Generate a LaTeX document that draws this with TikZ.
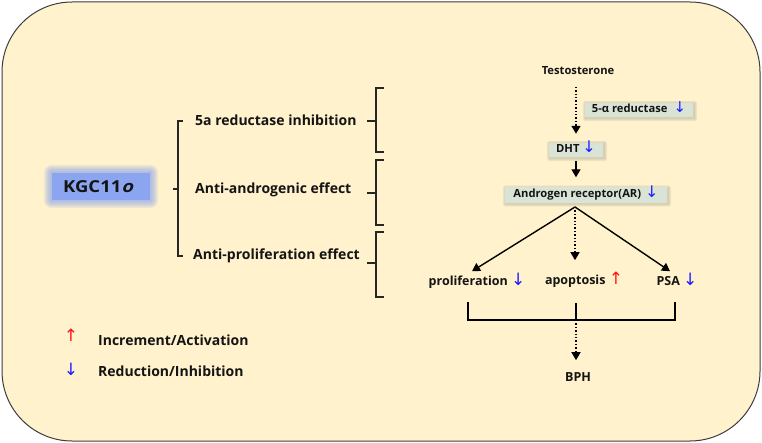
\documentclass[tikz,border=0pt]{standalone}
\usepackage{fontspec}
\setmainfont{Open Sans}
\newfontfamily\arrowfont{DejaVu Sans}
\newfontfamily\kgcfont{Open Sans}[FakeStretch=1.12]
\newfontfamily\kgcslant{Open Sans}[FakeStretch=1.12, FakeSlant=0.28]
\usetikzlibrary{arrows.meta,backgrounds,calc}
\definecolor{bgyellow}{RGB}{255,242,204}
\definecolor{framecol}{RGB}{60,60,60}
\definecolor{kgcblue}{RGB}{140,165,240}
\definecolor{boxgray}{RGB}{218,228,214}
\definecolor{upred}{RGB}{255,20,20}
\definecolor{downblue}{RGB}{30,30,255}
\definecolor{txt}{RGB}{20,20,20}
\newcommand{\dnarr}[1][17]{{\arrowfont\mdseries\fontsize{#1}{#1}\selectfont\color{downblue}↓}}
\newcommand{\uparr}[1][17]{{\arrowfont\mdseries\fontsize{#1}{#1}\selectfont\color{upred}↑}}
\begin{document}
\begin{tikzpicture}[x=1pt,y=-1pt,
  lbl/.style={font=\bfseries\fontsize{14}{16}\selectfont, text=txt, inner sep=0pt, text height=0.72em, text depth=0.2em},
  mid/.style={font=\bfseries\fontsize{12.5}{15}\selectfont, text=txt, inner sep=0pt, text height=0.72em, text depth=0.2em},
  sml/.style={font=\bfseries\fontsize{11.2}{13}\selectfont, text=txt, inner sep=0pt, text height=0.72em, text depth=0.2em},
  gbox/.style={sml, minimum height=14pt},
  arr/.style={-{Triangle[length=8pt,width=9pt]}, line width=1.4pt, black},
  darr/.style={arr, dotted},
  brk/.style={line width=1.3pt, black},
  brc/.style={line width=1.1pt, black!85}]
\useasboundingbox (0,0) rectangle (762,443);
\begin{pgfonlayer}{background}
\draw[fill=bgyellow, draw=framecol, line width=1pt, rounded corners=70pt] (2,2) rectangle (760,441);
\end{pgfonlayer}

% KGC11o glowing box
\node[minimum width=98pt, minimum height=27pt, inner sep=0pt,
      font=\kgcfont\bfseries\fontsize{16.5}{18}\selectfont, text=txt] (kgc) at (101,186.5)
      {\hspace*{-6pt}KGC11{\kgcslant\bfseries o}};

% pathway boxes
\node[sml] (testo) at (578,72) {Testosterone};
\node[gbox, minimum width=108pt] (red) at (639,110) {5-α reductase\hspace{6pt}\dnarr[15]};
\node[gbox, minimum width=54pt] (dht) at (576,150) {DHT \dnarr[16]};
\node[gbox, minimum width=162pt, minimum height=15pt] (ar) at (586,195) {Androgen receptor(AR)\hspace{4pt}\dnarr[16]};

\begin{pgfonlayer}{background}
  \foreach \i in {1,...,8}
    \fill[kgcblue, opacity=0.12, rounded corners=\i pt]
      ($(kgc.south west)+(-\i pt,-\i pt)$) rectangle ($(kgc.north east)+(\i pt,\i pt)$);
  \fill[kgcblue] (kgc.south west) rectangle (kgc.north east);
  \foreach \n in {red,dht,ar}{
    \foreach \i in {1,...,3}
      \fill[black!40!boxgray, opacity=0.12, rounded corners=\i pt]
        ($(\n.south west)+(-\i pt+1pt,-\i pt-1pt)$) rectangle ($(\n.north east)+(\i pt+1pt,\i pt-1pt)$);
    \fill[boxgray] (\n.south west) rectangle (\n.north east);
  }
\end{pgfonlayer}

% left brace
\draw[brc] (183,121) -- (178,121) -- (178,256) -- (183,256);
\draw[brc] (173,189) -- (178,189);

% effect labels
\node[lbl, anchor=west] (e1) at (195,123) {5a reductase inhibition};
\node[lbl, anchor=west] (e2) at (195,191) {Anti-androgenic effect};
\node[lbl, anchor=west] (e3) at (193,257) {Anti-proliferation effect};

% right braces
\foreach \t/\b/\m in {88/152/121, 160/225/193, 232/297/263}{
  \draw[brc] (384,\t) -- (376,\t) -- (376,\b) -- (384,\b);
  \draw[brc] (367,\m) -- (376,\m);
}

\coordinate (apex) at (575,207);

\node[mid] (prolif) at (477,283) {proliferation \dnarr};
\node[mid] (apop) at (584,282) {apoptosis \uparr};
\node[mid] (psa) at (677,283) {PSA \dnarr};
\node[mid] (bph) at (578,379) {BPH};

\draw[darr, shorten <=10pt, shorten >=9pt] (testo.south -| dht.north) -- (dht.north);
\draw[arr, shorten <=4pt, shorten >=10pt] (dht.south) -- (dht.south |- ar.north);
\draw[arr] (apex) -- ([xshift=-5pt, yshift=7pt]prolif.north);
\draw[arr] (apex) -- ([xshift=-7pt, yshift=7pt]psa.north);
\draw[darr, shorten >=17pt] (apex) -- (apex |- apop.north);

% bottom bracket
\coordinate (bl) at (468,320);
\coordinate (bm) at (576,320);
\coordinate (br) at (675,320);
\draw[brk] (468,302) -- (bl) -- (br) -- (675,302);
\draw[brk] (576,303) -- (bm);
\draw[darr, shorten >=14pt] (bm) -- (bm |- bph.north);

% legend
\node[lbl] (lup) at (71,339) {\uparr};
\node[lbl, anchor=west] (lupt) at (98,343) {Increment/Activation};
\node[lbl] (ldn) at (71,373) {\dnarr};
\node[lbl, anchor=west] (ldnt) at (98,374) {Reduction/Inhibition};
\end{tikzpicture}
\end{document}
